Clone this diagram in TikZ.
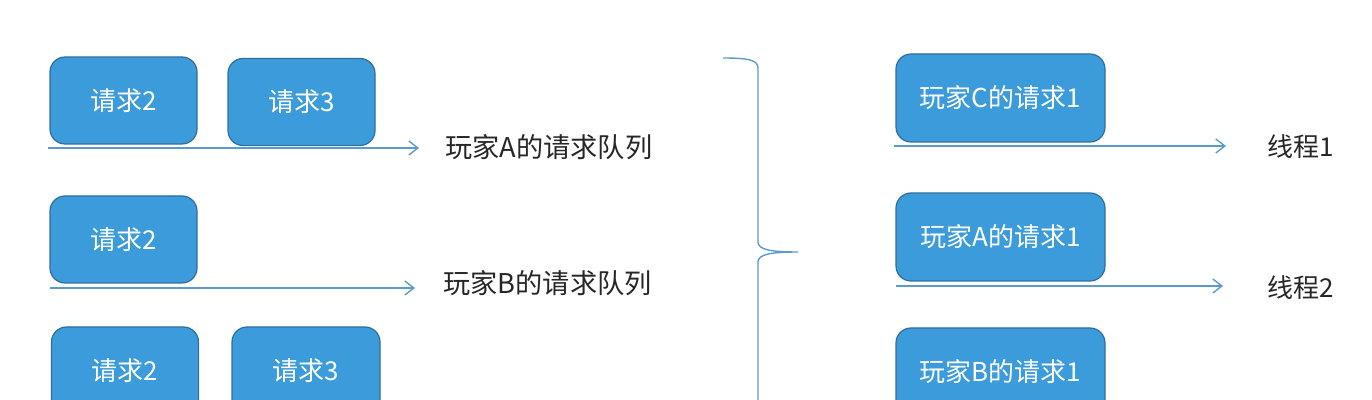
\documentclass[tikz,border=0pt]{standalone}
\usepackage{fontspec}
\setmainfont{Noto Sans CJK SC}
\usetikzlibrary{arrows.meta}
\definecolor{boxfill}{HTML}{3C9BDA}
\definecolor{boxline}{HTML}{2F6E9C}
\definecolor{arrline}{HTML}{5A9BCB}
\tikzset{
  reqbox/.style={draw=boxline, line width=0.6pt, fill=boxfill, rounded corners=7.5pt,
    minimum width=73.5pt, minimum height=43.5pt, inner sep=0pt,
    text=white, font=\fontsize{13}{15}\selectfont},
  widebox/.style={reqbox, minimum width=104.5pt, minimum height=44pt},
  queuelabel/.style={anchor=west, inner sep=0pt, font=\fontsize{13.6}{16}\selectfont, text=black!85},
  threadlabel/.style={anchor=west, inner sep=0pt, font=\fontsize{13}{15}\selectfont, text=black!85},
  flow/.style={draw=arrline, line width=0.7pt, -{Straight Barb[length=4.5pt,width=7pt,line width=0.7pt]}},
  bracepath/.style={draw=arrline, line width=0.7pt}
}
\begin{document}
\begin{tikzpicture}[x=0.5pt,y=-0.5pt]
\useasboundingbox (0,0) rectangle (1372,400);
\clip (0,0) rectangle (1372,400);
% left column boxes
\node[reqbox] (a2) at (123.5,100.5) {请求2};
\node[reqbox] (a3) at (301.5,102) {请求3};
\node[reqbox] (b2) at (123.5,239.5) {请求2};
\node[reqbox] (c2) at (125,370.5) {请求2};
\node[reqbox, minimum width=74pt] (c3) at (306,370.5) {请求3};
% queue arrows
\coordinate (qa0) at (48,148);
\coordinate (qa1) at (419,148);
\coordinate (qb0) at (50,288);
\coordinate (qb1) at (415,288);
\draw[flow] (qa0) -- (qa1);
\draw[flow] (qb0) -- (qb1);
\node[queuelabel] (la) at (445,147) {玩家A的请求队列};
\node[queuelabel] (lb) at (443,283) {玩家B的请求队列};
% brace
\coordinate (bt) at (723,58);
\coordinate (btip) at (798,252);
\coordinate (bb) at (723,446);
\draw[bracepath] (bt) .. controls (748,58) and (758,60) .. (758,68)
  -- (758,242) .. controls (758,250) and (772,252) .. (btip)
  .. controls (772,252) and (758,254) .. (758,262)
  -- (758,436) .. controls (758,444) and (748,446) .. (bb);
% right column boxes
\node[widebox] (rc) at (1000.5,98) {玩家C的请求1};
\node[widebox] (ra) at (1000.5,237) {玩家A的请求1};
\node[widebox] (rb) at (1000.5,372) {玩家B的请求1};
% thread arrows
\coordinate (t10) at (894,146);
\coordinate (t11) at (1226,146);
\coordinate (t20) at (896,286);
\coordinate (t21) at (1223,286);
\draw[flow] (t10) -- (t11);
\draw[flow] (t20) -- (t21);
\node[threadlabel] (th1) at (1267,147) {线程1};
\node[threadlabel] (th2) at (1267,288) {线程2};
\end{tikzpicture}
\end{document}
